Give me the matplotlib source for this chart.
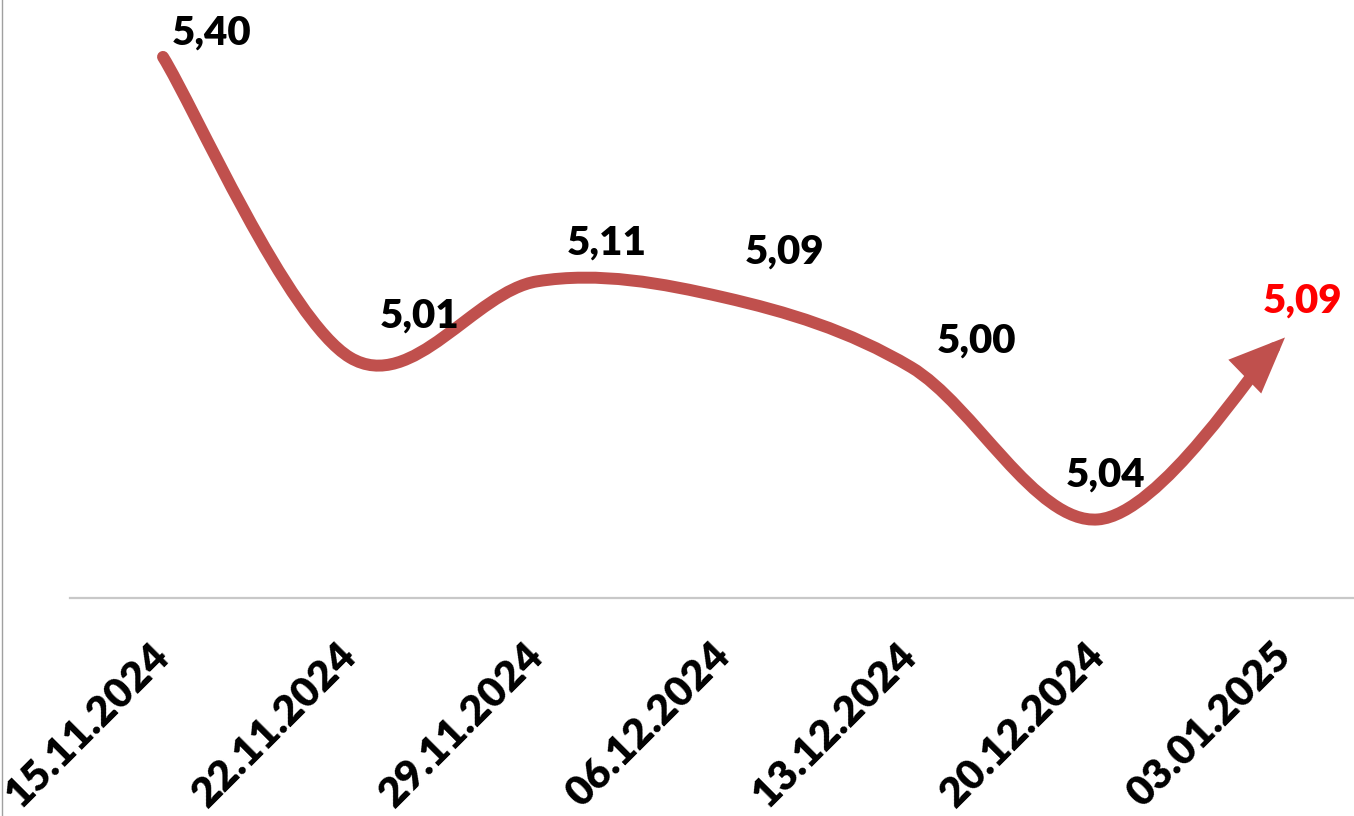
import matplotlib.pyplot as plt
import numpy as np
from matplotlib.path import Path
from matplotlib.patches import FancyArrowPatch, ArrowStyle
from matplotlib.lines import Line2D

dates = ['15.11.2024', '22.11.2024', '29.11.2024', '06.12.2024',
         '13.12.2024', '20.12.2024', '03.01.2025']
# heights of the line as drawn (the printed labels don't all agree with them)
values = [5.40, 5.025, 5.12, 5.10, 5.013, 4.823, 5.05]
labels = ['5,40', '5,01', '5,11', '5,09', '5,00', '5,04', '5,09']

line_color = '#C0504D'
label_colors = ['black'] * 6 + ['#FF0000']
label_offsets = [(49, 12), (70, 30), (70, 27), (60, 34), (65, 15), (8, 33), (18, 25)]

plt.rcParams['font.family'] = ['Lato', 'DejaVu Sans']

fig = plt.figure(figsize=(13.54, 8.16), dpi=100)
ax = fig.add_axes([69.5 / 1354, 218 / 816, 1309 / 1354, 598 / 816])

x = np.arange(len(values))
pts = np.column_stack([x, values])

# excel style smoothing: catmull-rom turned into bezier segments
padded = np.vstack([pts[0], pts, pts[-1]])
verts = [pts[0]]
codes = [Path.MOVETO]
for i in range(len(pts) - 1):
    p0, p1, p2, p3 = padded[i], padded[i + 1], padded[i + 2], padded[i + 3]
    verts += [p1 + (p2 - p0) / 6, p2 - (p3 - p1) / 6, p2]
    codes += [Path.CURVE4] * 3
curve = Path(np.array(verts), codes)

arrow = FancyArrowPatch(path=curve,
                        arrowstyle=ArrowStyle('-|>', head_length=25, head_width=10.5),
                        mutation_scale=1, color=line_color, linewidth=8.6,
                        capstyle='round', joinstyle='miter')
ax.add_patch(arrow)

for xi, yi, lab, col, off in zip(x, values, labels, label_colors, label_offsets):
    ax.annotate(lab, (xi, yi), xytext=off, textcoords='offset pixels',
                ha='center', va='baseline', fontsize=29, fontweight='heavy', color=col)

ax.set_xlim(-0.5, 6.5)
ax.set_ylim(4.725, 5.471)
ax.set_xticks(x)
ax.set_xticklabels(dates, rotation=45, ha='right', va='center',
                   rotation_mode='anchor', fontsize=30, fontweight='heavy')
ax.tick_params(axis='x', length=0, pad=37)
ax.set_yticks([])
for s in ['top', 'right', 'left']:
    ax.spines[s].set_visible(False)
ax.spines['bottom'].set_color('#C8C8C8')
ax.spines['bottom'].set_linewidth(1.6)

fig.add_artist(Line2D([0.0015, 0.0015], [0, 1], transform=fig.transFigure,
                      color='#A0A0A0', linewidth=1))

fig.savefig('out.png', dpi=100)
